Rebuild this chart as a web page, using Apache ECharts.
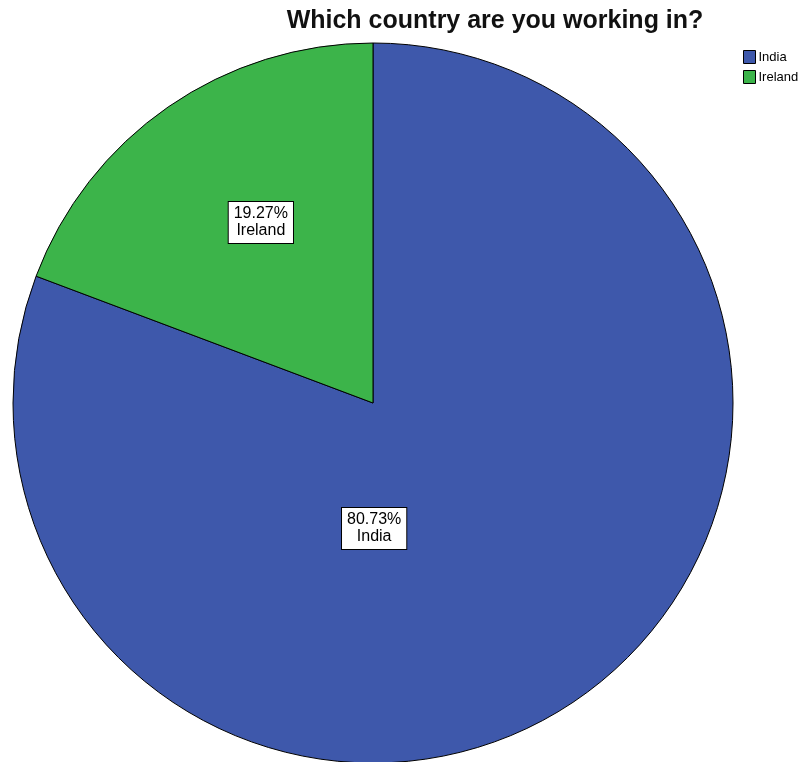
<!DOCTYPE html>
<html>
<head>
<meta charset="utf-8">
<script src="https://cdn.jsdelivr.net/npm/echarts@6/dist/echarts.min.js"></script>
<style>
  html, body { margin: 0; padding: 0; background: #fff; }
  #chart { width: 809px; height: 762px; }
</style>
</head>
<body>
<div id="chart"></div>
<script>
const countries = ["India", "Ireland"];
const shares = [80.73, 19.27];
const colors = ["#3e58ab", "#3cb44a"];
// label nudges so boxes sit where SPSS put them
const labelOffsets = [[-103, -25], [-8, -30]];

const chart = echarts.init(document.getElementById("chart"));

chart.setOption({
  animation: false,
  backgroundColor: "#fff",
  title: {
    text: "Which country are you working in?",
    left: 490,
    top: 4,
    textAlign: "center",
    textStyle: {
      fontFamily: "Liberation Sans, Arial, sans-serif",
      fontSize: 25,
      fontWeight: "bold",
      color: "#111",
    },
  },
  legend: {
    orient: "vertical",
    left: 738,
    top: 45,
    itemWidth: 12,
    itemHeight: 13,
    itemGap: 6,
    icon: "rect",
    itemStyle: { borderColor: "#000", borderWidth: 1 },
    textStyle: {
      fontFamily: "Liberation Sans, Arial, sans-serif",
      fontSize: 13,
      color: "#000",
      padding: [0, 0, 0, -2],
    },
    data: countries,
  },
  series: [
    {
      type: "pie",
      center: [373, 403],
      radius: 360,
      startAngle: 90,
      clockwise: true,
      data: countries.map((name, i) => ({
        name,
        value: shares[i],
        itemStyle: { color: colors[i] },
        label: { offset: labelOffsets[i] },
      })),
      itemStyle: { borderColor: "#000", borderWidth: 1 },
      emphasis: { disabled: true },
      labelLine: { show: false },
      label: {
        show: true,
        position: "inside",
        formatter: (p) => `${p.value.toFixed(2)}%\n${p.name}`,
        fontFamily: "Liberation Sans, Arial, sans-serif",
        fontSize: 16,
        lineHeight: 17,
        color: "#000",
        backgroundColor: "#fff",
        borderColor: "#000",
        borderWidth: 1,
        padding: [4, 5, 3, 5],
        align: "center",
      },
    },
  ],
});
</script>
</body>
</html>
